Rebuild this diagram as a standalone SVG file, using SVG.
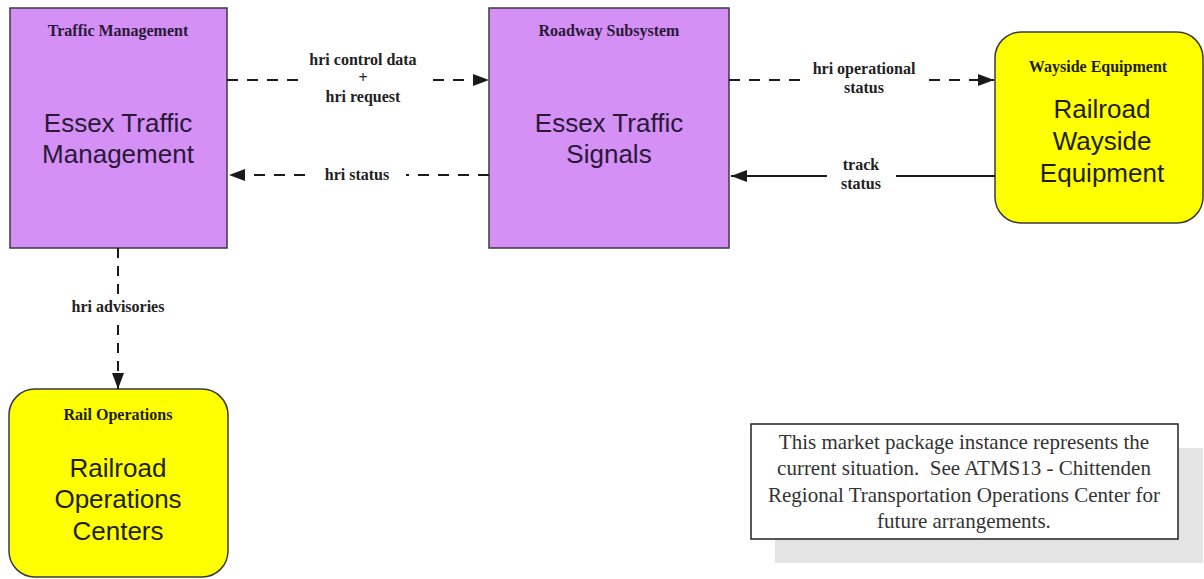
<svg xmlns="http://www.w3.org/2000/svg" width="1204" height="579" viewBox="0 0 1204 579">
<defs>
<marker id="ah" viewBox="0 0 16 12" refX="16" refY="6" markerWidth="16" markerHeight="12" markerUnits="userSpaceOnUse" orient="auto">
<path d="M0,0 L16,6 L0,12 Z" fill="#1a1a1a"/>
</marker>
<style>
.sub{fill:#D490F4;stroke:#3a3a3a;stroke-width:1.5}
.term{fill:#FFFF00;stroke:#3a3a3a;stroke-width:1.5}
.hdr{font-family:"Liberation Serif",serif;font-weight:bold;font-size:16px;text-anchor:middle}
.main{font-family:"Liberation Sans",Arial,sans-serif;font-size:26px;text-anchor:middle}
.pt{fill:#2a1838}
.yt{fill:#1e1e10}
.lbl{font-family:"Liberation Serif",serif;font-weight:bold;font-size:16px;text-anchor:middle;fill:#222}
.dash{fill:none;stroke:#1a1a1a;stroke-width:2;stroke-dasharray:11 9}
.vdash{fill:none;stroke:#1a1a1a;stroke-width:2;stroke-dasharray:10 8}
.solid{fill:none;stroke:#1a1a1a;stroke-width:2}
.note{font-family:"Liberation Serif",serif;font-size:21px;text-anchor:middle;fill:#333;white-space:pre}
</style>
</defs>
<rect width="1204" height="579" fill="#ffffff"/>

<g id="traffic-management">
<rect class="sub" x="10" y="8" width="217" height="240"/>
<text class="hdr pt" x="118" y="36">Traffic Management</text>
<text class="main pt" x="118" y="132">Essex Traffic</text>
<text class="main pt" x="118" y="163">Management</text>
</g>

<g id="roadway-subsystem">
<rect class="sub" x="489" y="8" width="240" height="240"/>
<text class="hdr pt" x="609" y="36">Roadway Subsystem</text>
<text class="main pt" x="609" y="132">Essex Traffic</text>
<text class="main pt" x="609" y="163">Signals</text>
</g>

<g id="wayside-equipment">
<rect class="term" x="995" y="32" width="208" height="191" rx="26" ry="26"/>
<text class="hdr yt" x="1098" y="72">Wayside Equipment</text>
<text class="main yt" x="1102" y="118">Railroad</text>
<text class="main yt" x="1102" y="150">Wayside</text>
<text class="main yt" x="1102" y="182">Equipment</text>
</g>

<g id="rail-operations">
<rect class="term" x="9" y="389" width="219" height="188" rx="26" ry="26"/>
<text class="hdr yt" x="118" y="420">Rail Operations</text>
<text class="main yt" x="118" y="477">Railroad</text>
<text class="main yt" x="118" y="508">Operations</text>
<text class="main yt" x="118" y="540">Centers</text>
</g>

<g id="connectors">
<path class="dash" d="M227,80 H298"/>
<path class="dash" d="M433,80 H489" marker-end="url(#ah)"/>
<path class="dash" d="M489,175 H406"/>
<path class="dash" d="M305,175 H229" marker-end="url(#ah)"/>
<path class="dash" d="M729,80 H801"/>
<path class="dash" d="M929,80 H994" marker-end="url(#ah)"/>
<path class="solid" d="M995,176 H896"/>
<path class="solid" d="M827,176 H731" marker-end="url(#ah)"/>
<path class="vdash" d="M118,248 V295"/>
<path class="vdash" d="M118,325 V389" marker-end="url(#ah)"/>
<text class="lbl" x="363" y="65">hri control data</text>
<text class="lbl" x="363" y="83">+</text>
<text class="lbl" x="363" y="102">hri request</text>
<text class="lbl" x="357" y="180">hri status</text>
<text class="lbl" x="864" y="74">hri operational</text>
<text class="lbl" x="864" y="93">status</text>
<text class="lbl" x="861" y="170">track</text>
<text class="lbl" x="861" y="189">status</text>
<text class="lbl" x="118" y="312">hri advisories</text>
</g>

<g id="note">
<rect x="775" y="448" width="428" height="115" fill="#e4e4e4"/>
<rect x="751" y="424" width="427" height="115" fill="#ffffff" stroke="#222" stroke-width="1.5"/>
<text class="note" x="964" y="449">This market package instance represents the</text>
<text class="note" x="964" y="475" xml:space="preserve">current situation.  See ATMS13 - Chittenden</text>
<text class="note" x="964" y="502">Regional Transportation Operations Center for</text>
<text class="note" x="964" y="528">future arrangements.</text>
</g>
</svg>
